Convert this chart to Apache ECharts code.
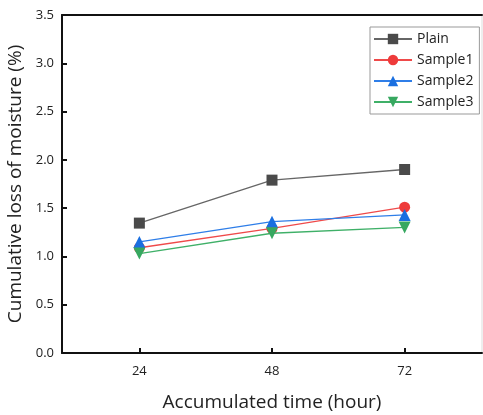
<!DOCTYPE html>
<html><head><meta charset="utf-8">
<script src="https://cdn.jsdelivr.net/npm/echarts@6/dist/echarts.min.js"></script>
<style>html,body{margin:0;padding:0;background:#fff}#c{width:483px;height:415px}</style>
</head><body><div id="c"></div>
<script>
const hours = [24, 48, 72];
const plain = [1.345, 1.79, 1.90];
const sample1 = [1.09, 1.29, 1.51];
const sample2 = [1.15, 1.36, 1.43];
const sample3 = [1.03, 1.24, 1.30];
const yTicks = [0, 0.5, 1.0, 1.5, 2.0, 2.5, 3.0, 3.5];

const FONT = '"Open Sans", "Noto Sans", sans-serif';
function pts(v){ return hours.map((h,i)=>[h, v[i]]); }
function s(name, data, color, lineColor, symbol, size, rot){
  return {name, type:'line', data: pts(data), symbol, symbolSize: size, symbolRotate: rot||0,
    itemStyle:{color}, lineStyle:{color: lineColor, width:1.3}, z: 3};
}
const chart = echarts.init(document.getElementById('c'));
chart.setOption({
  animation:false,
  grid:{left:62, top:15, right:1, bottom:62, outerBoundsMode:'none', containLabel:false,
        show:true, borderColor:'#ddd', borderWidth:1},
  legend:{
    left:370, top:27, orient:'vertical', itemWidth:38, itemHeight:13, itemGap:7,
    borderColor:'#999', borderWidth:1, padding:[5,6,5,3],
    textStyle:{fontFamily:FONT, fontSize:14, color:'#222'},
    data:['Plain','Sample1','Sample2','Sample3']
  },
  xAxis:[{
    type:'value', min:10, max:86,
    name:'Accumulated time (hour)', nameLocation:'middle', nameGap:40,
    nameTextStyle:{fontFamily:FONT, fontSize:19, color:'#222'},
    axisLine:{show:true, lineStyle:{color:'#111', width:2}},
    axisTick:{show:true, inside:true, length:5, lineStyle:{width:2, color:'#111'}, customValues: hours},
    axisLabel:{fontFamily:FONT, fontSize:13, color:'#222', margin:12, customValues: hours},
    splitLine:{show:false}
  },{
    type:'value', position:'top', min:10, max:86,
    axisLine:{show:true, onZero:false, lineStyle:{color:'#111', width:2}},
    axisTick:{show:false}, axisLabel:{show:false}, splitLine:{show:false}
  }],
  yAxis:{
    type:'value', min:0, max:3.5, interval:0.5,
    name:'Cumulative loss of moisture (%)', nameLocation:'middle', nameGap:32,
    nameTextStyle:{fontFamily:FONT, fontSize:19, color:'#222'},
    axisLine:{show:true, lineStyle:{color:'#111', width:2}},
    axisTick:{show:true, inside:true, length:5, lineStyle:{width:2, color:'#111'}},
    axisLabel:{fontFamily:FONT, fontSize:13, color:'#222', margin:8,
      formatter: v => yTicks.includes(v) ? v.toFixed(1) : ''},
    splitLine:{show:false}
  },
  series:[
    s('Plain', plain, '#4a4a4a', '#666666', 'rect', 11),
    s('Sample1', sample1, '#ee3b3b', '#ef4a4a', 'circle', 11),
    s('Sample2', sample2, '#1a6fe0', '#2f7ee8', 'triangle', 12),
    s('Sample3', sample3, '#37a860', '#3fb068', 'triangle', 12, 180)
  ]
});
</script></body></html>
